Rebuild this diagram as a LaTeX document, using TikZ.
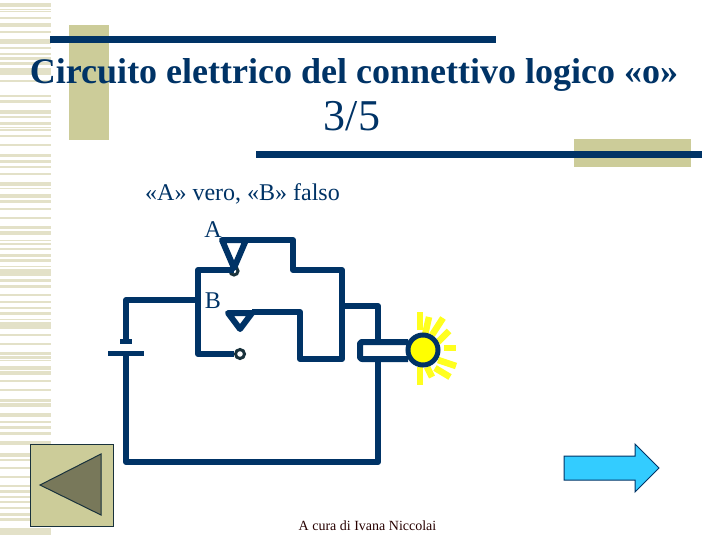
\documentclass[tikz,border=0pt]{standalone}
\usepackage{fontspec}
\setmainfont{Liberation Serif}
\definecolor{navy}{RGB}{0,51,102}
\definecolor{khaki}{RGB}{204,204,153}
\definecolor{stripe}{RGB}{227,225,200}
\definecolor{ray}{RGB}{255,255,30}
\definecolor{glow}{RGB}{255,255,0}
\definecolor{olive}{RGB}{120,120,90}
\definecolor{sky}{RGB}{51,204,255}
\definecolor{edge}{RGB}{25,50,60}
\tikzset{
    wire/.style={draw=navy, line width=6pt, line join=round},
    bar/.style={fill=navy},
    patch/.style={fill=khaki},
    sun/.style={draw=ray, line width=6.5pt},
    contact/.style={circle, draw=edge, line width=3pt, fill=white, inner sep=0pt},
    txt/.style={text=navy, inner sep=0pt}
}
\begin{document}
\begin{tikzpicture}[x=1pt, y=-1pt]
    \useasboundingbox (0,0) rectangle (720,540);
    % striped band
    \foreach \a/\b in {3/7,9/10,11/12,17/19,23/27,31/33,39/41,41/44,47/49,53/55,57/60,62/65,68/75,80/82,95/97,100/103,110/114,116/118,122/125,127/128,129/131,135/137,144/146,154/157,160/163,166/168,173/175,182/186,188/189,194/198,200/203,208/210,217/219,226/229,231/235,240/241,243/245,248/250,254/257,259/262,266/267,269/276,279/282,285/288,294/296,301/303,307/309,312/315,319/320,322/329,334/336,343/345,352/355,356/359,360/361,366/370,371/375,380/382,389/391,399/402,403/407,413/417,421/423,426/429,432/435,441/445,453/457,459/461,467/469,476/478,485/487,490/493,496/498,501/503,507/509,513/516,518/521,528/535}
    {
        \fill[stripe] (0,\a) rectangle (51,\b);
    }
    \fill[patch] (69,25) rectangle (109,140);
    \fill[patch] (574,139) rectangle (691,167);
    \fill[bar] (50,36) rectangle (496,43);
    \fill[bar] (256,151) rectangle (702,158);
    % texts
    \node[txt, anchor=base, font=\fontsize{36}{40}\selectfont\bfseries] (title) at (354,84) {Circuito elettrico del connettivo logico «o»};
    \node[txt, font=\fontsize{44}{48}\selectfont] (num) at (352,116) {3/5};
    \node[txt, font=\fontsize{24}{28}\selectfont] (state) at (242.5,194) {«A» vero, «B» falso};
    \node[txt, font=\fontsize{24}{28}\selectfont] (labA) at (213,230) {A};
    \node[txt, font=\fontsize{24}{28}\selectfont] (labB) at (213,301) {B};
    \node[inner sep=0pt, text=black!85!red, font=\fontsize{14}{16}\selectfont] (credit) at (367.5,526) {A cura di Ivana Niccolai};
    % lamp
    \foreach \x/\y/\u/\v in {420/312/420/330,429/317/425/335,443/318/432/335,449/331/438/342,444/348/456/348,438/360/456/366,435/368/450/377,427/367/432/377,420/367/420/385}
    {
        \draw[sun] (\x,\y) -- (\u,\v);
    }
    \draw[wire, rounded corners=2pt] (408,342) -- (360,342) -- (360,359) -- (408,359);
    \node[circle, draw=navy, line width=5pt, fill=glow, minimum size=30pt, inner sep=0pt] (bulb) at (423,350) {};
    % contacts
    \node[contact, minimum size=8pt] (conA) at (234,271) {};
    \node[contact, minimum size=9pt] (conB) at (240,354) {};
    % battery
    \node[fill=navy, minimum width=12pt, minimum height=5pt, inner sep=0pt] (platep) at (126,341.5) {};
    \node[fill=navy, minimum width=36pt, minimum height=5pt, inner sep=0pt] (platen) at (126,353.5) {};
    % wires
    \coordinate (joint) at (198,300);
    \coordinate (tipA) at (234,268);
    \draw[wire] (tipA |- 0,270) -- (198,270) -- (198,354) -- (conB);
    \draw[wire] (joint) -- (126,300) -- (platep);
    \draw[wire] (platen) -- (126,462) -- (378,462) -- (378,359);
    \draw[wire] (378,342) -- (378,306) -- (342,306);
    \draw[wire] (tipA) -- (222,240) -- (246,240) -- cycle;
    \draw[wire] (246,240) -- (293,240) -- (293,270) -- (342,270) -- (342,359) -- (300,359) -- (300,312) -- (252,312);
    \draw[wire, fill=white] (228,313) -- (252,313) -- (240,329) -- cycle;
    % buttons
    \draw[patch, draw=edge, line width=1pt] (30,444) rectangle (113,526);
    \draw[fill=olive, draw=edge, line width=1pt] (40,485) -- (101,454) -- (101,515) -- cycle;
    \draw[fill=sky, draw=navy, line width=1pt] (564,456) -- (635,456) -- (635,444) -- (659,468) -- (635,492) -- (635,480) -- (564,480) -- cycle;
\end{tikzpicture}
\end{document}
